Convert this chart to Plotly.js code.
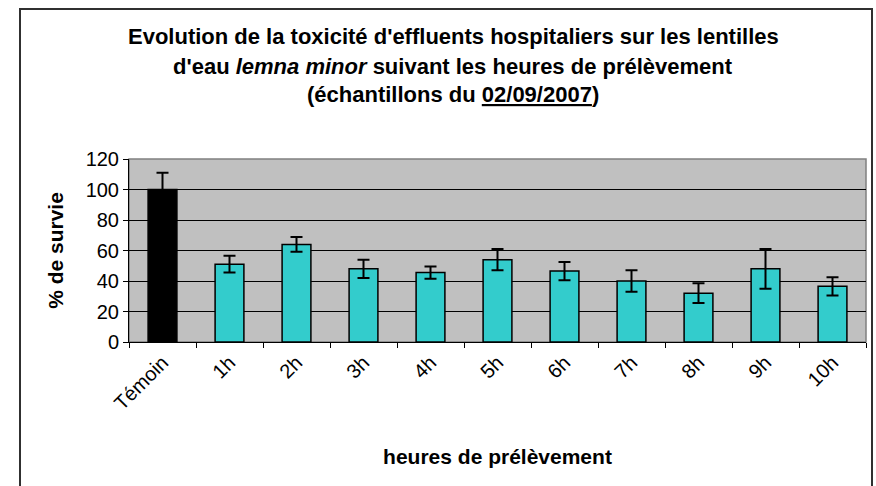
<!DOCTYPE html>
<html>
<head>
<meta charset="utf-8">
<script src="https://cdn.plot.ly/plotly-3.0.1.min.js"></script>
<style>
  html, body { margin: 0; padding: 0; background: #ffffff; }
  #chart { width: 876px; height: 486px; }
</style>
</head>
<body>
<div id="chart"></div>
<script>
// ---- data ----
var categories = ["Témoin", "1h", "2h", "3h", "4h", "5h", "6h", "7h", "8h", "9h", "10h"];
var survie = [100, 51, 64, 48, 45.5, 54, 46.5, 40, 32, 48, 36.5];
var erreur = [11, 5.5, 4.8, 6, 4, 7, 6, 7, 6.5, 13, 6];
var barColors = ["#000000", "#33CCCC", "#33CCCC", "#33CCCC", "#33CCCC", "#33CCCC",
                 "#33CCCC", "#33CCCC", "#33CCCC", "#33CCCC", "#33CCCC"];
var titleLines = [
  "Evolution de la toxicité d'effluents hospitaliers sur les lentilles",
  "d'eau <i>lemna minor</i> suivant les heures de prélèvement",
  "(échantillons du <u>02/09/2007</u>)"
];
var yTickVals = [0, 20, 40, 60, 80, 100, 120];
var xAxisTitle = "heures de prélèvement";
var yAxisTitle = "% de survie";

var FONT = "Liberation Sans, Arial, sans-serif";

var trace = {
  type: "bar",
  x: categories,
  y: survie,
  marker: { color: barColors, line: { color: "#000000", width: 1.5 } },
  error_y: { type: "data", array: erreur, visible: true, color: "#000000", thickness: 2, width: 6, symmetric: true },
  hoverinfo: "x+y"
};

var titleY = [37, 66, 94];
var annotations = titleLines.map(function (t, i) {
  return {
    text: "<b>" + t + "</b>",
    xref: "paper", yref: "paper",
    x: (453 - 129) / 737, y: (342 - titleY[i]) / 183,
    xanchor: "center", yanchor: "middle",
    showarrow: false,
    font: { family: FONT, size: 22, color: "#000000" }
  };
});

var layout = {
  width: 876,
  height: 486,
  margin: { l: 129, r: 10, t: 159, b: 144 },
  paper_bgcolor: "#ffffff",
  plot_bgcolor: "#C0C0C0",
  showlegend: false,
  bargap: 0.57,
  font: { family: FONT, color: "#000000" },
  xaxis: {
    type: "category",
    tickangle: -45,
    ticks: "outside",
    tickson: "boundaries",
    ticklen: 5,
    tickcolor: "#000000",
    tickfont: { family: FONT, size: 20, color: "#000000" },
    showline: true,
    linecolor: "#000000",
    linewidth: 1,
    showgrid: false,
    title: { text: "<b>" + xAxisTitle + "</b>", font: { family: FONT, size: 21, color: "#000000" }, standoff: 36 }
  },
  yaxis: {
    range: [0, 120],
    tickvals: yTickVals,
    ticks: "outside",
    ticklen: 5,
    tickcolor: "#000000",
    tickfont: { family: FONT, size: 20, color: "#000000" },
    showline: true,
    linecolor: "#000000",
    linewidth: 1,
    showgrid: true,
    gridcolor: "#000000",
    gridwidth: 1,
    zeroline: false,
    title: { text: "<b>" + yAxisTitle + "</b>", font: { family: FONT, size: 21, color: "#000000" }, standoff: 16 }
  },
  annotations: annotations,
  shapes: [
    {
      type: "rect", xref: "paper", yref: "paper",
      x0: 0, x1: 1, y0: 0, y1: 1,
      line: { color: "#808080", width: 1.5 }, layer: "below"
    },
    {
      type: "rect", xref: "paper", yref: "paper",
      x0: (20 - 129) / 737, x1: (872 - 129) / 737,
      y0: (342 - 500) / 183, y1: (342 - 9) / 183,
      line: { color: "#303030", width: 2 }
    }
  ]
};

Plotly.newPlot("chart", [trace], layout, { displayModeBar: false, staticPlot: true });
</script>
</body>
</html>
